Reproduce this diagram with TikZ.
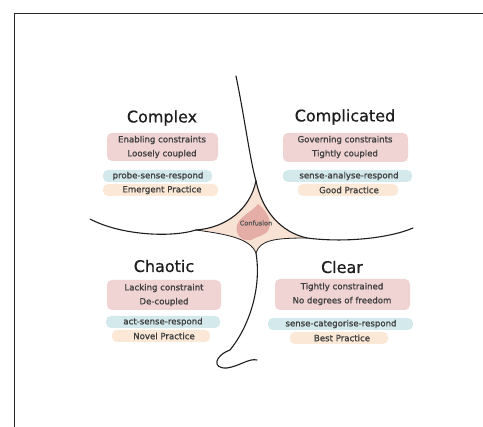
\documentclass[tikz,border=0pt]{standalone}
\usepackage{fontspec}
\setmainfont{DejaVu Sans}
\newfontfamily\bodyfont[FakeBold=1.2]{DejaVu Sans}
\newfontfamily\titlefont[FakeBold=0.6]{DejaVu Sans}
\definecolor{ink}{HTML}{1E1E1E}
\definecolor{hlpink}{HTML}{F0D3D3}
\definecolor{hlblue}{HTML}{D3E9EC}
\definecolor{hlpeach}{HTML}{FBE8D6}
\definecolor{confbg}{HTML}{F7E2D4}
\definecolor{confblob}{HTML}{E4ADA6}
\tikzset{
  title/.style={font=\titlefont\fontsize{16}{18}\selectfont, text=ink, inner sep=0pt},
  body/.style={font=\bodyfont\fontsize{8.6}{10}\selectfont, text=ink!85, inner sep=0pt},
  hl/.style={rounded corners=5pt},
  curve/.style={line width=1.1pt, ink, line cap=round},
}
\begin{document}
\begin{tikzpicture}[x=1pt,y=-1pt]
\path[use as bounding box, fill=white] (0,0) rectangle (483,427);
\draw[line width=1pt, black!85] (14,427) -- (14,14) -- (483,14);

% confusion region
\fill[confbg] (256,181) .. controls (250,210) and (225,228) .. (196,230)
  .. controls (225,234) and (250,238) .. (256,253)
  .. controls (260,240) and (275,238) .. (307,238)
  .. controls (280,232) and (262,210) .. (256,181) -- cycle;
\fill[confblob] (258,204) .. controls (267,211) and (272,221) .. (269,229)
  .. controls (266,236) and (257,236) .. (251,240)
  .. controls (240,242) and (235,233) .. (237,225)
  .. controls (241,215) and (252,212) .. (258,204) -- cycle;

% coordinates
\coordinate (T) at (256,181);
\coordinate (L) at (196,230);
\coordinate (R) at (307,238);
\coordinate (B) at (256,253);
\coordinate (topend) at (236,76);
\coordinate (leftend) at (90,219);
\coordinate (rightend) at (413,228);
\coordinate (loopend) at (257,360);

\draw[curve] (topend) .. controls (245,120) and (250,160) .. (T);
\draw[curve] (T) .. controls (250,210) and (225,228) .. (L);
\draw[curve] (T) .. controls (262,210) and (280,232) .. (R);
\draw[curve] (L) .. controls (170,238) and (120,235) .. (leftend);
\draw[curve] (R) .. controls (345,243) and (390,238) .. (rightend);
\draw[curve, line width=0.8pt] (L) .. controls (225,234) and (250,238) .. (B);
\draw[curve, line width=0.8pt] (R) .. controls (275,238) and (260,240) .. (B);
\draw[curve] (B) .. controls (262,290) and (248,328) .. (230,350)
  .. controls (214,356) and (212,369) .. (227,368)
  .. controls (240,366) and (249,358) .. (loopend);

\node[font=\bodyfont\fontsize{6.5}{7}\selectfont, text=ink!75, inner sep=0pt] (conf) at (256,223) {Confusion};

% highlights
\fill[hlpink, hl] (107,133) rectangle (218,161);
\fill[hlblue, hl] (103,170) rectangle (212,182);
\fill[hlpeach, hl] (103,184) rectangle (218,196);

\fill[hlpink, hl] (283,133) rectangle (408,162);
\fill[hlblue, hl] (283,170) rectangle (412,182);
\fill[hlpeach, hl] (298,184) rectangle (398,196);

\fill[hlpink, hl] (107,280) rectangle (221,310);
\fill[hlblue, hl] (106,316) rectangle (220,328);
\fill[hlpeach, hl] (112,330) rectangle (210,342);

\fill[hlpink, hl] (275,279) rectangle (410,310);
\fill[hlblue, hl] (268,318) rectangle (413,330);
\fill[hlpeach, hl] (290,332) rectangle (388,344);

% Complex
\node[title] (cx) at (162,118) {Complex};
\node[body] (cx1) at (162,140) {Enabling constraints};
\node[body] (cx2) at (162,154) {Loosely coupled};
\node[body] (cx3) at (158,176) {probe-sense-respond};
\node[body] (cx4) at (162,190) {Emergent Practice};

% Complicated
\node[title] (cd) at (345,117) {Complicated};
\node[body] (cd1) at (345,140) {Governing constraints};
\node[body] (cd2) at (345,154) {Tightly coupled};
\node[body] (cd3) at (349,176) {sense-analyse-respond};
\node[body] (cd4) at (349,190) {Good Practice};

% Chaotic
\node[title] (ch) at (164,266) {Chaotic};
\node[body] (ch1) at (164,288) {Lacking constraint};
\node[body] (ch2) at (164,302) {De-coupled};
\node[body] (ch3) at (163,322) {act-sense-respond};
\node[body] (ch4) at (164,336) {Novel Practice};

% Clear
\node[title] (cl) at (342,267) {Clear};
\node[body] (cl1) at (342,287) {Tightly constrained};
\node[body] (cl2) at (342,301) {No degrees of freedom};
\node[body] (cl3) at (341,324) {sense-categorise-respond};
\node[body] (cl4) at (342,338) {Best Practice};
\end{tikzpicture}
\end{document}
